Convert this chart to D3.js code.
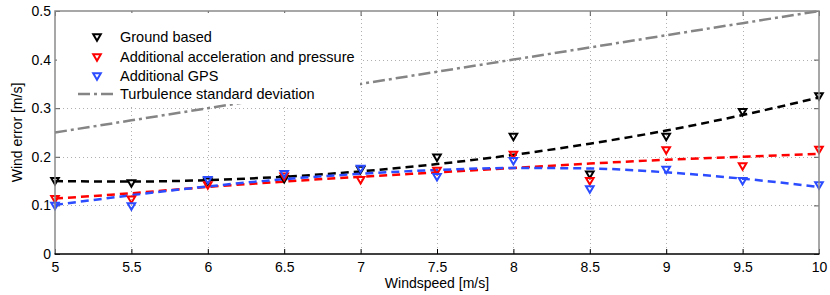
<!DOCTYPE html>
<html>
<head>
<meta charset="utf-8">
<script src="https://cdn.jsdelivr.net/npm/d3@7"></script>
<style>
  body { margin: 0; background: #fff; }
  text { font-family: "Liberation Sans", Arial, sans-serif; }
</style>
</head>
<body>
<div id="chart"></div>
<script>
// Data
const windspeed = [5, 5.5, 6, 6.5, 7, 7.5, 8, 8.5, 9, 9.5, 10];
const groundBased = [0.151, 0.146, 0.150, 0.155, 0.174, 0.199, 0.242, 0.164, 0.242, 0.293, 0.325];
const accelPressure = [0.114, 0.113, 0.142, 0.160, 0.153, 0.172, 0.205, 0.151, 0.214, 0.181, 0.215];
const gps = [0.100, 0.099, 0.153, 0.165, 0.176, 0.159, 0.192, 0.134, 0.174, 0.151, 0.142];
// fitted dashed curves
const groundFit = [0.150, 0.149, 0.152, 0.159, 0.170, 0.185, 0.204, 0.227, 0.254, 0.286, 0.322];
const accelFit = [0.114, 0.125, 0.138, 0.149, 0.159, 0.168, 0.177, 0.186, 0.194, 0.200, 0.206];
const gpsFit = [0.101, 0.121, 0.139, 0.154, 0.165, 0.173, 0.177, 0.176, 0.168, 0.155, 0.138];
const turbulence = [0.25, 0.275, 0.30, 0.325, 0.35, 0.375, 0.40, 0.425, 0.45, 0.475, 0.50];

const xTicks = [5, 5.5, 6, 6.5, 7, 7.5, 8, 8.5, 9, 9.5, 10];
const yTicks = [0, 0.1, 0.2, 0.3, 0.4, 0.5];

const series = [
  { name: "Ground based", color: "#000000", values: groundBased, fit: groundFit },
  { name: "Additional acceleration and pressure", color: "#ff0000", values: accelPressure, fit: accelFit },
  { name: "Additional GPS", color: "#2b4cff", values: gps, fit: gpsFit },
];

const width = 830;
const height = 295;
const pLeft = 55, pRight = 819, pTop = 11, pBottom = 254;
const fs = 14;

const svg = d3.select("#chart").append("svg").attr("width", width).attr("height", height);

const x = d3.scaleLinear().domain([5, 10]).range([pLeft, pRight]);
const y = d3.scaleLinear().domain([0, 0.5]).range([pBottom, pTop]);

// grid
const grid = svg.append("g").attr("stroke", "#b0b0b0").attr("stroke-width", 1).attr("stroke-dasharray", "1,3");
grid.selectAll(".gx").data(xTicks.slice(1, -1)).enter().append("line")
  .attr("x1", (d) => Math.round(x(d)) + 0.5).attr("x2", (d) => Math.round(x(d)) + 0.5)
  .attr("y1", pTop).attr("y2", pBottom);
grid.selectAll(".gy").data(yTicks.slice(1, -1)).enter().append("line")
  .attr("y1", (d) => Math.round(y(d)) + 0.5).attr("y2", (d) => Math.round(y(d)) + 0.5)
  .attr("x1", pLeft).attr("x2", pRight);

// axes with inward ticks
const xAxis = d3.axisBottom(x).tickValues(xTicks).tickSizeInner(-5).tickSizeOuter(0).tickPadding(8).tickFormat(d3.format("~g"));
const yAxis = d3.axisLeft(y).tickValues(yTicks).tickSizeInner(-5).tickSizeOuter(0).tickPadding(4).tickFormat(d3.format("~g"));

svg.append("g").attr("transform", `translate(0,${pBottom})`).call(xAxis)
  .call((g) => g.select(".domain").remove())
  .call((g) => g.selectAll("line").attr("stroke", "#000"))
  .call((g) => g.selectAll("text").attr("font-size", fs).attr("fill", "#000"));
svg.append("g").attr("transform", `translate(${pLeft},0)`).call(yAxis)
  .call((g) => g.select(".domain").remove())
  .call((g) => g.selectAll("line").attr("stroke", "#555"))
  .call((g) => g.selectAll("text").attr("font-size", fs).attr("fill", "#000"));
// top and right ticks
svg.append("g").attr("transform", `translate(0,${pTop})`)
  .call(d3.axisTop(x).tickValues(xTicks).tickSizeInner(-5).tickSizeOuter(0).tickFormat(""))
  .call((g) => g.select(".domain").remove())
  .call((g) => g.selectAll("line").attr("stroke", "#555"));
svg.append("g").attr("transform", `translate(${pRight},0)`)
  .call(d3.axisRight(y).tickValues(yTicks).tickSizeInner(-5).tickSizeOuter(0).tickFormat(""))
  .call((g) => g.select(".domain").remove())
  .call((g) => g.selectAll("line").attr("stroke", "#555"));

// turbulence line
const line = d3.line().x((d, i) => x(windspeed[i])).y((d) => y(d));
const smooth = d3.line().x((d, i) => x(windspeed[i])).y((d) => y(d)).curve(d3.curveMonotoneX);

svg.append("path").datum(turbulence).attr("d", line)
  .attr("fill", "none").attr("stroke", "#858585").attr("stroke-width", 2.5)
  .attr("stroke-dasharray", "12,4,3,4");

// fitted curves
series.forEach((s) => {
  svg.append("path").datum(s.fit).attr("d", smooth)
    .attr("fill", "none").attr("stroke", s.color).attr("stroke-width", 2.5)
    .attr("stroke-dasharray", "8,5");
});

// markers
const tri = "M-3.8,-2.7L3.8,-2.7L0,3.8Z";
series.forEach((s) => {
  svg.append("g").selectAll("path").data(s.values).enter().append("path")
    .attr("d", tri)
    .attr("transform", (d, i) => `translate(${x(windspeed[i])},${y(d)})`)
    .attr("fill", "none").attr("stroke", s.color).attr("stroke-width", 2);
});

// box
svg.append("path").attr("d", `M${pLeft},${pBottom}V${pTop}H${pRight}V${pBottom}`)
  .attr("fill", "none").attr("stroke", "#8a8a8a").attr("stroke-width", 1.5);
svg.append("line").attr("x1", pLeft - 0.5).attr("x2", pRight + 0.5).attr("y1", pBottom).attr("y2", pBottom)
  .attr("stroke", "#000").attr("stroke-width", 1.5);

// legend
const legend = svg.append("g");
legend.append("rect").attr("x", 57).attr("y", 13).attr("width", 303).attr("height", 91).attr("fill", "#fff");
const rowY = [37, 57, 76, 94];
series.forEach((s, i) => {
  legend.append("path").attr("d", tri).attr("transform", `translate(97,${rowY[i]})`)
    .attr("fill", "none").attr("stroke", s.color).attr("stroke-width", 2);
  legend.append("text").attr("x", 120).attr("y", rowY[i] + 5).attr("font-size", 14.5).text(s.name);
});
legend.append("line").attr("x1", 78).attr("x2", 115).attr("y1", rowY[3]).attr("y2", rowY[3])
  .attr("stroke", "#858585").attr("stroke-width", 2.5).attr("stroke-dasharray", "12,4,3,4");
legend.append("text").attr("x", 120).attr("y", rowY[3] + 5).attr("font-size", 14.5).text("Turbulence standard deviation");

// axis labels
svg.append("text").attr("x", (pLeft + pRight) / 2).attr("y", 288).attr("text-anchor", "middle")
  .attr("font-size", fs).text("Windspeed [m/s]");
svg.append("text").attr("transform", `translate(22,${(pTop + pBottom) / 2}) rotate(-90)`)
  .attr("text-anchor", "middle").attr("font-size", fs).text("Wind error [m/s]");
</script>
</body>
</html>
